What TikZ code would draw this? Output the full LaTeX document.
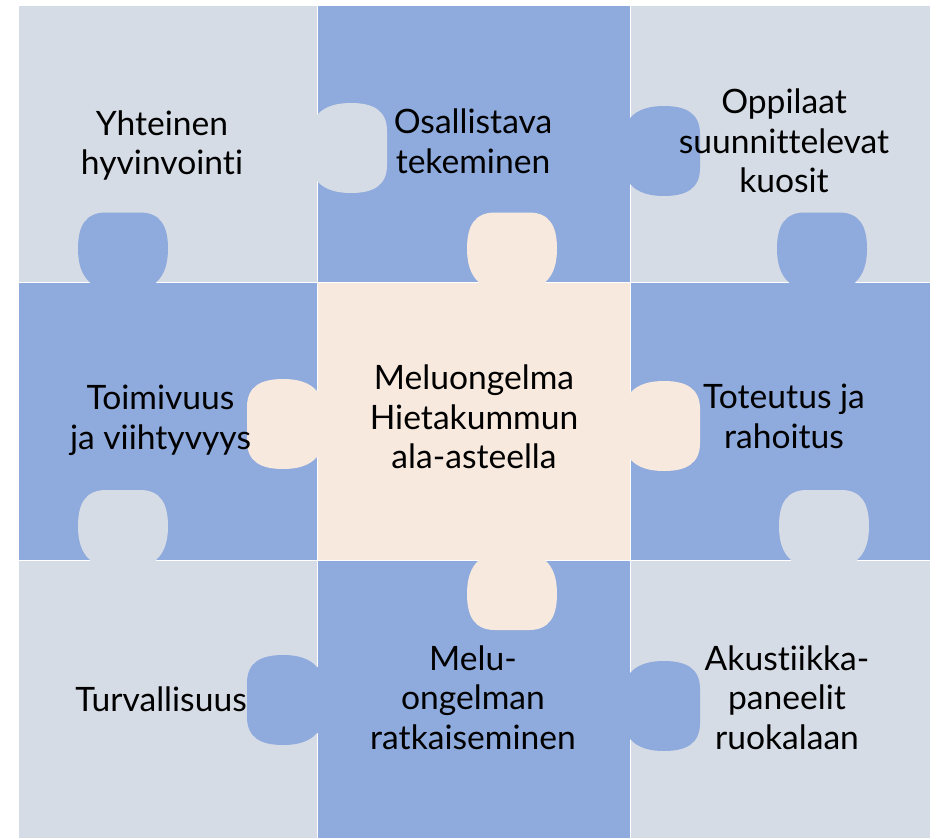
\documentclass[tikz,border=0pt]{standalone}
\usepackage{fontspec}
\setmainfont{Lato}[Ligatures={NoCommon,NoRare}]
\definecolor{lightP}{HTML}{D6DCE5}
\definecolor{blueP}{HTML}{8FAADC}
\definecolor{creamP}{HTML}{F8E9DF}
\tikzset{
  knob/.pic={\fill[#1] (-33,-6) -- (-33,0) .. controls (-42,8) and (-45,20) .. (-45,34)
      .. controls (-45,57) and (-37,70) .. (-17,70) -- (17,70)
      .. controls (37,70) and (45,57) .. (45,34)
      .. controls (45,20) and (42,8) .. (33,0) -- (33,-6) -- cycle;},
  lbl/.style={font=\fontsize{33.6}{39.5}\selectfont, align=center, text=black, inner sep=0pt},
  tile/.style={draw=white, line width=0.5pt}
}
\begin{document}
\begin{tikzpicture}[x=1pt,y=-1pt]
\useasboundingbox[fill=white] (0,0) rectangle (937,838);
% tiles
\path[tile, fill=lightP] (18,5) rectangle (317,282.5);
\path[tile, fill=blueP]  (317,5) rectangle (630,282.5);
\path[tile, fill=lightP] (630,5) rectangle (930,282.5);
\path[tile, fill=blueP]  (18,282.5) rectangle (317,560);
\path[tile, fill=creamP] (317,282.5) rectangle (630,560);
\path[tile, fill=blueP]  (630,282.5) rectangle (930,560);
\path[tile, fill=lightP] (18,560) rectangle (317,838);
\path[tile, fill=blueP]  (317,560) rectangle (630,838);
\path[tile, fill=lightP] (630,560) rectangle (930,838);
% knobs
\pic[rotate=180] at (123,282.5) {knob=blueP};
\pic[rotate=90]  at (317,148)   {knob=lightP};
\pic[rotate=180] at (512,282.5) {knob=creamP};
\pic[rotate=90]  at (630,151)   {knob=blueP};
\pic[rotate=180] at (822,282.5) {knob=blueP};
\pic[rotate=-90] at (317,424)   {knob=creamP};
\pic[rotate=180] at (123,560)   {knob=lightP};
\pic[rotate=90]  at (630,426)   {knob=creamP};
\pic[rotate=180] at (824,560)   {knob=lightP};
\pic[rotate=0]   at (512,560)   {knob=creamP};
\pic[rotate=-90] at (317,700)   {knob=blueP};
\pic[rotate=90]  at (630,706)   {knob=blueP};
% labels
\node[lbl] (t1) at (162,145.5) {Yhteinen\\hyvinvointi};
\node[lbl] (t2) at (473,141.5) {Osallistava\\tekeminen};
\node[lbl] (t3) at (784,141) {Oppilaat\\suunnittelevat\\kuosit};
\node[lbl] (t4) at (160.5,420.5) {Toimivuus\\ja viihtyvyys};
\node[lbl] (t5) at (474,417) {Meluongelma\\Hietakummun\\ala-asteella};
\node[lbl] (t6) at (784,416.5) {Toteutus ja\\rahoitus};
\node[lbl] (t7) at (161,699) {Turvallisuus};
\node[lbl] (t8) at (473,697.5) {Melu-\\ongelman\\ratkaiseminen};
\node[lbl] (t9) at (787,697.5) {Akustiikka-\\paneelit\\ruokalaan};
\end{tikzpicture}
\end{document}
